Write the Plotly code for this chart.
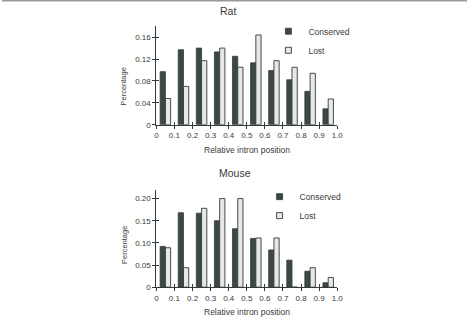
import plotly.graph_objects as go

bins = [0.05, 0.15, 0.25, 0.35, 0.45, 0.55, 0.65, 0.75, 0.85, 0.95]
tick_vals = [0, 0.1, 0.2, 0.3, 0.4, 0.5, 0.6, 0.7, 0.8, 0.9, 1.0]
tick_text = ["0", "0.1", "0.2", "0.3", "0.4", "0.5", "0.6", "0.7", "0.8", "0.9", "1.0"]

rat_conserved = [0.097, 0.137, 0.140, 0.133, 0.125, 0.113, 0.099, 0.082, 0.061, 0.029]
rat_lost = [0.048, 0.070, 0.117, 0.140, 0.105, 0.164, 0.117, 0.105, 0.094, 0.047]
mouse_conserved = [0.092, 0.168, 0.167, 0.150, 0.132, 0.110, 0.084, 0.061, 0.036, 0.010]
mouse_lost = [0.089, 0.044, 0.178, 0.200, 0.200, 0.111, 0.111, 0.0, 0.044, 0.022]

rat_yticks = [0, 0.04, 0.08, 0.12, 0.16]
rat_ytext = ["0", "0.04", "0.08", "0.12", "0.16"]
mouse_yticks = [0, 0.05, 0.10, 0.15, 0.20]
mouse_ytext = ["0", "0.05", "0.10", "0.15", "0.20"]

DARK = "#3c4846"
LIGHT = "#e6e7e7"
EDGE = "#333b3a"
TXT = "#3a3a3a"
FONT = "Liberation Sans, Arial, sans-serif"

W, H = 473, 322
def px(x): return x / W
def py(y): return 1 - y / H

fig = go.Figure()

for xa, ya, cons, lost, leg in [("x", "y", rat_conserved, rat_lost, "legend"),
                                 ("x2", "y2", mouse_conserved, mouse_lost, "legend2")]:
    fig.add_trace(go.Bar(x=bins, y=cons, xaxis=xa, yaxis=ya, showlegend=False,
                         marker=dict(color=DARK, line=dict(color=EDGE, width=0.8))))
    fig.add_trace(go.Bar(x=bins, y=lost, xaxis=xa, yaxis=ya, showlegend=False,
                         marker=dict(color=LIGHT, line=dict(color=EDGE, width=0.9))))
    # legend entries
    fig.add_trace(go.Scatter(x=[None], y=[None], xaxis=xa, yaxis=ya, mode="markers",
                             name="Conserved", legend=leg,
                             marker=dict(symbol="square", size=6, color=DARK,
                                         line=dict(color=EDGE, width=0.8))))
    fig.add_trace(go.Scatter(x=[None], y=[None], xaxis=xa, yaxis=ya, mode="markers",
                             name="Lost", legend=leg,
                             marker=dict(symbol="square", size=6, color=LIGHT,
                                         line=dict(color=EDGE, width=0.9))))

# overlay axes for inward tick halves
for xa, ya in [("x3", "y3"), ("x4", "y4")]:
    fig.add_trace(go.Scatter(x=[None], y=[None], xaxis=xa, yaxis=ya, showlegend=False,
                             hoverinfo="skip"))

xdom = [px(157), px(341)]
top_dom = [py(126.7), py(26.6)]
bot_dom = [py(291.7), py(192.7)]

TICKF = dict(size=8, color=TXT, family=FONT)
xcommon = dict(range=[0, 1.0], domain=xdom, tickvals=tick_vals, ticktext=tick_text,
               showgrid=False, zeroline=False, showline=True, linecolor=EDGE, linewidth=1,
               ticks="outside", ticklen=3, tickcolor=EDGE, tickwidth=1, tickfont=TICKF)
ycommon = dict(showgrid=False, zeroline=False, showline=True, linecolor=EDGE, linewidth=1,
               ticks="outside", ticklen=3, tickcolor=EDGE, tickwidth=1, tickfont=TICKF)

overlay_x = dict(range=[0, 1.0], domain=xdom, tickvals=tick_vals, showticklabels=False,
                 showgrid=False, zeroline=False, showline=False,
                 ticks="inside", ticklen=3, tickcolor=EDGE, tickwidth=1)
overlay_y = dict(showticklabels=False, showgrid=False, zeroline=False, showline=False,
                 ticks="inside", ticklen=3, tickcolor=EDGE, tickwidth=1)

def ann(text, x, y, size, angle=0):
    return dict(text=text, x=px(x), y=py(y), xref="paper", yref="paper",
                xanchor="center", yanchor="middle", showarrow=False, textangle=angle,
                font=dict(size=size, color=TXT, family=FONT))

fig.update_layout(
    width=W, height=H, margin=dict(l=0, r=0, t=0, b=0),
    paper_bgcolor="white", plot_bgcolor="white",
    barmode="group", bargap=0.42, bargroupgap=0,
    font=dict(family=FONT, color=TXT),
    xaxis=dict(**xcommon, anchor="y"),
    yaxis=dict(**ycommon, range=[0, 0.18], domain=top_dom, tickvals=rat_yticks,
               ticktext=rat_ytext, anchor="x"),
    xaxis2=dict(**xcommon, anchor="y2"),
    yaxis2=dict(**ycommon, range=[0, 0.22], domain=bot_dom, tickvals=mouse_yticks,
                ticktext=mouse_ytext, anchor="x2"),
    xaxis3=dict(**overlay_x, anchor="y3", overlaying="x"),
    yaxis3=dict(**overlay_y, range=[0, 0.18], domain=top_dom, tickvals=rat_yticks,
                anchor="x3", overlaying="y"),
    xaxis4=dict(**overlay_x, anchor="y4", overlaying="x2"),
    yaxis4=dict(**overlay_y, range=[0, 0.22], domain=bot_dom, tickvals=mouse_yticks,
                anchor="x4", overlaying="y2"),
    legend=dict(x=px(271), y=py(17), xanchor="left", yanchor="top",
                font=dict(size=8.5, color=TXT, family=FONT), bgcolor="rgba(0,0,0,0)",
                tracegroupgap=0),
    legend2=dict(x=px(262), y=py(185), xanchor="left", yanchor="top",
                 font=dict(size=8.5, color=TXT, family=FONT), bgcolor="rgba(0,0,0,0)",
                 tracegroupgap=0),
    shapes=[dict(type="line", xref="paper", yref="paper", x0=0, x1=1,
                 y0=py(0.8), y1=py(0.8), line=dict(color="#9a9a9a", width=1.6))],
    annotations=[
        ann("Rat", 229.5, 11, 10.5),
        ann("Mouse", 237, 176, 10.5),
        ann("Relative intron position", 249, 152, 8.5),
        ann("Relative intron position", 249, 317, 8.5),
        ann("Percentage", 124, 88, 7.5, -90),
        ann("Percentage", 124, 249, 7.5, -90),
    ],
)

fig.write_html("out.html")
